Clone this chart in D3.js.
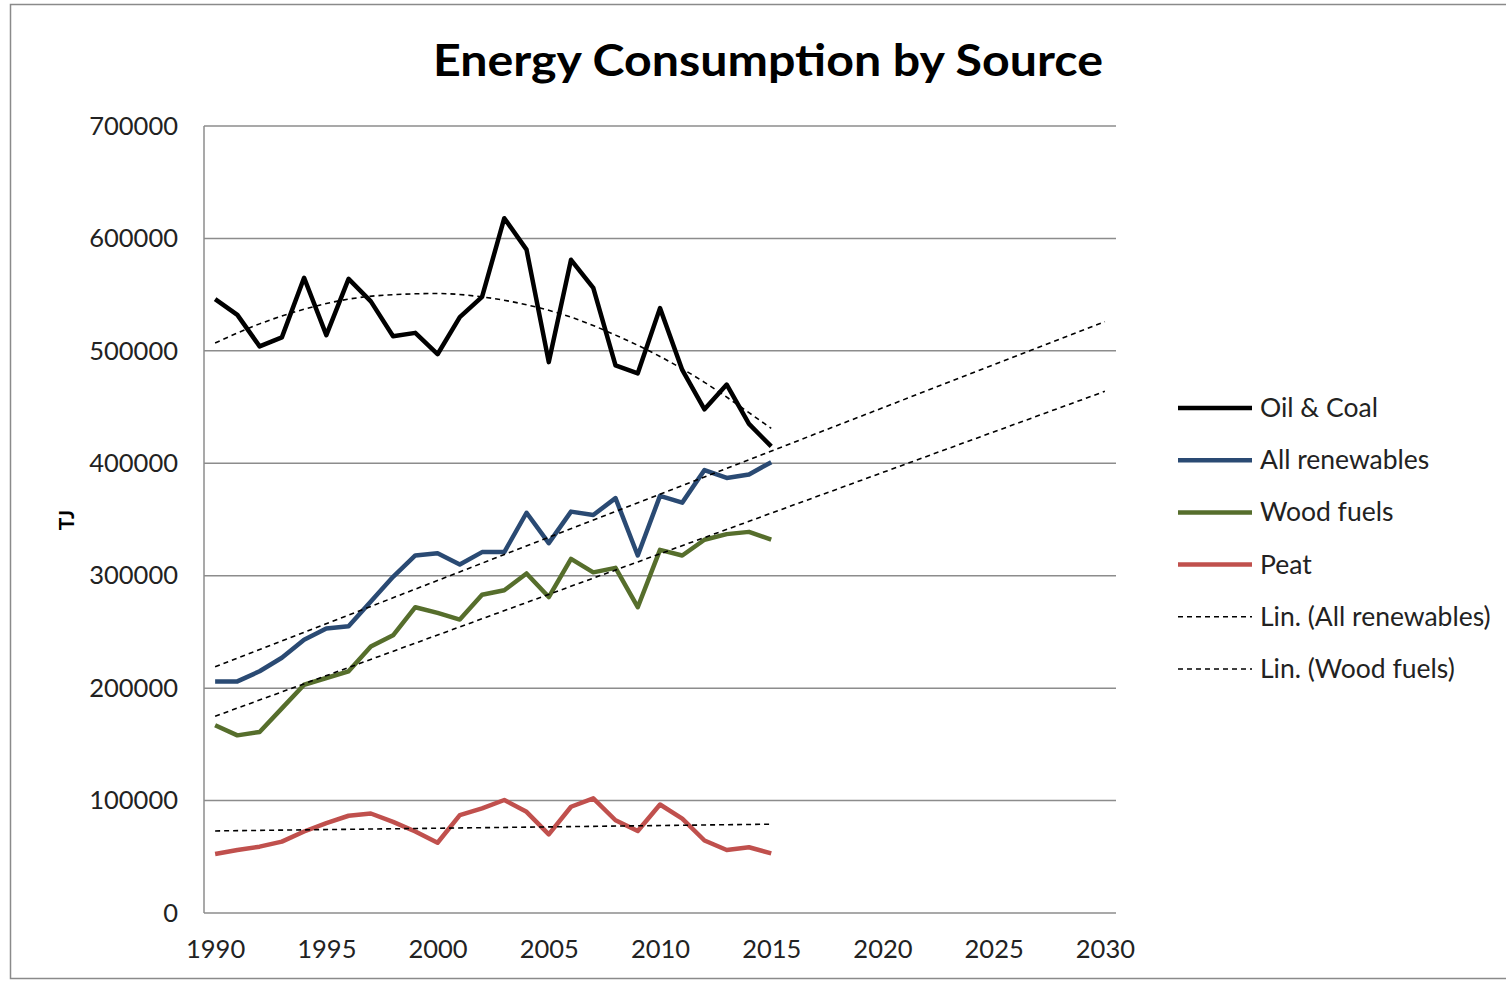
<!DOCTYPE html>
<html>
<head>
<meta charset="utf-8">
<script src="https://cdn.jsdelivr.net/npm/d3@7"></script>
<style>
  body { margin: 0; background: #fff; }
  svg { font-family: Lato, "Open Sans", sans-serif; }
</style>
</head>
<body>
<div id="chart"></div>
<script>
// chart values
const years = [1990, 1991, 1992, 1993, 1994, 1995, 1996, 1997, 1998, 1999, 2000, 2001, 2002,
               2003, 2004, 2005, 2006, 2007, 2008, 2009, 2010, 2011, 2012, 2013, 2014, 2015];
const oilCoal = [546000, 532000, 504000, 512000, 565000, 514000, 564000, 544000, 513000, 516000,
                 497000, 530000, 548000, 618000, 590000, 490000, 581000, 556000, 487000, 480000,
                 538000, 483000, 448000, 470000, 435000, 415000];
const renewables = [206000, 206000, 215000, 227000, 243000, 253000, 255000, 277000, 299000, 318000,
                    320000, 310000, 321000, 321000, 356000, 329000, 357000, 354000, 369000, 318000,
                    371000, 365000, 394000, 387000, 390000, 401000];
const woodFuels = [167000, 158000, 161000, 182000, 203000, 209000, 215000, 237000, 247000, 272000,
                   267000, 261000, 283000, 287000, 302000, 281000, 315000, 303000, 307000, 272000,
                   323000, 318000, 332000, 337000, 339000, 332000];
const peat = [52500, 56000, 59000, 63500, 72500, 80000, 86500, 88500, 81000, 72500,
              62500, 87000, 93000, 100500, 90000, 70000, 94500, 102000, 82500, 73000,
              96500, 84000, 64500, 56000, 58500, 53000];

// trendlines as drawn in the picture
const oilTrendYears = [1990, 1992, 1994, 1996, 1998, 2000, 2002, 2004, 2006, 2008, 2010, 2012, 2014, 2015];
const oilTrend = [507000, 524000, 537000, 546000, 550000, 551000, 548000, 541000, 530000, 514000, 495000, 472000, 445000, 431000];
const linYears = [1990, 2030];
const renewTrend = [219000, 526000];
const woodTrend = [175000, 464000];
const peatTrendYears = [1990, 2015];
const peatTrend = [73000, 79000];

const xTicks = [1990, 1995, 2000, 2005, 2010, 2015, 2020, 2025, 2030];
const yTicks = [0, 100000, 200000, 300000, 400000, 500000, 600000, 700000];

const seriesNames = ["Oil & Coal", "All renewables", "Wood fuels", "Peat"];
const trendNames = ["Lin. (All renewables)", "Lin. (Wood fuels)"];

const COLORS = ["#000000", "#2a4a73", "#566e2c", "#c0504d"];
const GRID = "#8c8c8c";

const W = 1506, H = 981;
const margin = {top: 126, left: 204};
const plotW = 912, plotH = 787;

let svg = d3.select("#chart").append("svg")
    .attr("width", W)
    .attr("height", H);

// outer frame
svg.append("rect")
    .attr("x", 10.5).attr("y", 4.5)
    .attr("width", W + 20).attr("height", 974)
    .attr("fill", "none").attr("stroke", "#8a8a8a").attr("stroke-width", 1.5);

svg.append("text")
    .attr("x", 768).attr("y", 76)
    .attr("text-anchor", "middle")
    .style("font-size", "44px")
    .style("font-weight", "bold")
    .attr("textLength", 670)
    .attr("lengthAdjust", "spacingAndGlyphs")
    .text("Energy Consumption by Source");

let g = svg.append("g").attr("transform", `translate(${margin.left}, ${margin.top})`);

let x = d3.scaleLinear().domain([1989.5, 2030.5]).range([0, plotW]);
let y = d3.scaleLinear().domain([0, 700000]).range([plotH, 0]);

// gridlines
g.selectAll(".grid").data(yTicks).enter()
    .append("line")
    .attr("x1", 0).attr("x2", plotW)
    .attr("y1", d => y(d)).attr("y2", d => y(d))
    .attr("stroke", GRID).attr("stroke-width", 1.5);
g.append("line")
    .attr("x1", 0).attr("x2", 0).attr("y1", 0).attr("y2", plotH)
    .attr("stroke", GRID).attr("stroke-width", 1.5);

let yAxis = g.append("g")
    .call(d3.axisLeft(y).tickValues(yTicks).tickSize(0).tickPadding(26).tickFormat(d3.format("d")));
yAxis.select(".domain").remove();
yAxis.selectAll("text").style("font-size", "25.5px").attr("fill", "#222").attr("font-family", "Lato");

let xAxis = g.append("g")
    .attr("transform", `translate(0, ${plotH})`)
    .call(d3.axisBottom(x).tickValues(xTicks).tickSize(0).tickPadding(27).tickFormat(d3.format("d")));
xAxis.select(".domain").remove();
xAxis.selectAll("text").style("font-size", "25.5px").attr("fill", "#222").attr("font-family", "Lato");

svg.append("text")
    .attr("transform", `translate(74, 520) rotate(-90)`)
    .attr("text-anchor", "middle")
    .style("font-size", "21px")
    .style("font-weight", "bold")
    .text("TJ");

// trendlines
function drawTrend(xs, vs, curved) {
    let pts = xs.map((yr, i) => [yr, vs[i]]);
    let line = d3.line()
        .x(d => x(d[0])).y(d => y(d[1]))
        .curve(curved ? d3.curveMonotoneX : d3.curveLinear);
    g.append("path")
        .datum(pts)
        .attr("d", line)
        .attr("fill", "none")
        .attr("stroke", "#000")
        .attr("stroke-width", 1.6)
        .attr("stroke-dasharray", "5,4");
}

// series
const allSeries = [oilCoal, renewables, woodFuels, peat];
let seriesLine = d3.line()
    .x((d, i) => x(years[i]))
    .y(d => y(d));
allSeries.forEach(function(vals, k) {
    g.append("path")
        .datum(vals)
        .attr("d", seriesLine)
        .attr("fill", "none")
        .attr("stroke", COLORS[k])
        .attr("stroke-width", 4.5)
        .attr("stroke-linejoin", "round");
});

drawTrend(oilTrendYears, oilTrend, true);
drawTrend(linYears, renewTrend, false);
drawTrend(linYears, woodTrend, false);
drawTrend(peatTrendYears, peatTrend, false);

// legend
let legend = svg.append("g").attr("transform", "translate(1178, 408)");
seriesNames.concat(trendNames).forEach(function(name, i) {
    let row = legend.append("g").attr("transform", `translate(0, ${i * 52.2})`);
    let trend = i >= seriesNames.length;
    row.append("line")
        .attr("x1", 0).attr("x2", 74)
        .attr("stroke", trend ? "#000" : COLORS[i])
        .attr("stroke-width", trend ? 1.6 : 4.5)
        .attr("stroke-dasharray", trend ? "5,4" : null);
    row.append("text")
        .attr("x", 82).attr("y", 9)
        .style("font-size", "26.5px")
        .attr("fill", "#222")
        .text(name);
});
</script>
</body>
</html>
